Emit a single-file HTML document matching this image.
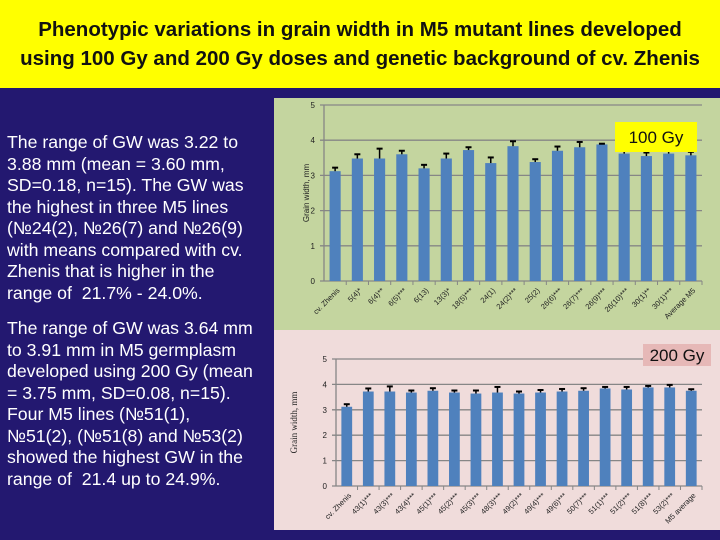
<!DOCTYPE html>
<html><head><meta charset="utf-8"><style>
body{margin:0;width:720px;height:540px;overflow:hidden;background:#231870;font-family:"Liberation Sans",sans-serif;position:relative}
#title{position:absolute;left:0;top:0;width:720px;height:88px;background:#ffff00;text-align:center;font-weight:bold;font-size:20.5px;line-height:29px;padding-top:15px;box-sizing:border-box;color:#111}
.txt{position:absolute;left:7px;color:#fff;font-size:17.7px;line-height:21.5px;white-space:nowrap}
#g1{position:absolute;left:274px;top:98px;width:446px;height:232px;background:#c4d59f}
#g2{position:absolute;left:274px;top:330px;width:446px;height:200px;background:#f0dcdb}
svg{position:absolute;left:0;top:0}
</style></head><body>
<div id="title">Phenotypic variations in grain width in M5 mutant lines developed<br>using 100 Gy and 200 Gy doses and genetic background of cv. Zhenis</div>
<div class="txt" style="top:132px">The range of GW was 3.22 to<br>3.88 mm (mean = 3.60 mm,<br>SD=0.18, n=15). The GW was<br>the highest in three M5 lines<br>(№24(2), №26(7) and №26(9)<br>with means compared with cv.<br>Zhenis that is higher in the<br>range of&nbsp; 21.7% - 24.0%.</div>
<div class="txt" style="top:318px">The range of GW was 3.64 mm<br>to 3.91 mm in M5 germplasm<br>developed using 200 Gy (mean<br>= 3.75 mm, SD=0.08, n=15).<br>Four M5 lines (№51(1),<br>№51(2), (№51(8) and №53(2)<br>showed the highest GW in the<br>range of&nbsp; 21.4 up to 24.9%.</div>
<div id="g1"></div>
<div id="g2"></div>
<svg id="svg" width="720" height="540"></svg>
<script>
const cats1=["cv. Zhenis","5(4)*","6(4)**","6(5)***","6(13)","13(3)*","18(5)***","24(1)","24(2)***","25(2)","26(6)***","26(7)***","26(9)***","26(10)***","30(1)**","30(1)***","Average M5"];
const vals1=[3.12,3.48,3.48,3.6,3.2,3.48,3.72,3.35,3.83,3.38,3.7,3.8,3.88,3.62,3.55,3.62,3.57];
const errs1=[0.1,0.12,0.28,0.1,0.1,0.14,0.08,0.16,0.14,0.08,0.12,0.15,0.02,0.1,0.1,0.1,0.1];
const cats2=["cv. Zhenis","43(1)***","43(3)***","43(4)***","45(1)***","45(2)***","45(3)***","48(3)***","49(2)***","49(4)***","49(6)***","50(7)***","51(1)***","51(2)***","51(8)***","53(2)***","M5 average"];
const vals2=[3.12,3.72,3.72,3.68,3.75,3.68,3.64,3.68,3.64,3.68,3.72,3.75,3.84,3.8,3.88,3.88,3.75];
const errs2=[0.1,0.12,0.2,0.08,0.1,0.08,0.12,0.22,0.08,0.1,0.1,0.1,0.06,0.1,0.06,0.1,0.06];
const ticks=[0,1,2,3,4,5];
const NS="http://www.w3.org/2000/svg";
const svg=document.getElementById('svg');
function mk(t,a,p){const e=document.createElementNS(NS,t);for(const k in a)e.setAttribute(k,a[k]);(p||svg).appendChild(e);return e;}
function chart(o){
 const g=mk('g',{});
 
 
 const y=v=>o.y0-(o.y0-o.y5)*v/5;
 const bw=(o.x1-o.x0)/o.cats.length;
 ticks.forEach(t=>{
  mk('line',{x1:o.x0-4,x2:o.x1,y1:y(t),y2:y(t),stroke:'#868686','stroke-width':1.3},g);
  const tx=mk('text',{x:o.x0-9,y:y(t)+3,'font-size':8,'text-anchor':'end',fill:'#222'},g);tx.textContent=t;
  
  
 });
 mk('line',{x1:o.x0,x2:o.x0,y1:o.y5,y2:o.y0,stroke:'#868686','stroke-width':1.3},g);
 o.cats.forEach((c,i)=>{
  const cx=o.x0+bw*(i+0.5),w=bw*0.5;
  const r=mk('rect',{x:cx-w/2,y:y(o.vals[i]),width:w,height:o.y0-y(o.vals[i]),fill:'#4f81bd'},g);
  
  
  const ey=y(o.vals[i]+o.errs[i]);
  mk('line',{x1:cx,x2:cx,y1:y(o.vals[i]),y2:ey,stroke:'#000','stroke-width':1.5},g);
  mk('line',{x1:cx-3,x2:cx+3,y1:ey,y2:ey,stroke:'#000','stroke-width':2},g);
  mk('line',{x1:o.x0+bw*(i+1),x2:o.x0+bw*(i+1),y1:o.y0,y2:o.y0+4,stroke:'#868686'},g);
  const lt=mk('text',{x:cx+5,y:o.y0+10,'font-size':7.5,'text-anchor':'end',fill:'#222',transform:`rotate(-45 ${cx+5} ${o.y0+10})`},g);lt.textContent=c;
  
  
 });
 const yt=mk('text',{x:0,y:0,'font-size':o.yfs,'text-anchor':'middle',fill:'#222','font-family':o.yff,transform:`translate(${o.ytx} ${(o.y0+o.y5)/2}) rotate(-90)`},g);yt.textContent='Grain width, mm';
 
 
 const b=mk('rect',{x:o.bx,y:o.by,width:o.bw,height:o.bh,fill:o.bfill},g);
 
 
 const bt=mk('text',{x:o.bx+o.bw/2,y:o.by+o.bh/2+6,'font-size':17,'text-anchor':'middle',fill:'#111'},g);bt.textContent=o.label;
 
 
}
chart({name:'chart-100gy',cats:cats1,vals:vals1,errs:errs1,x0:324,x1:702,y0:281,y5:105,ytx:309,yfs:8,yff:'Liberation Sans',bx:615,by:122,bw:82,bh:30,bfill:'#ffff00',label:'100 Gy'});
chart({name:'chart-200gy',cats:cats2,vals:vals2,errs:errs2,x0:336,x1:702,y0:486,y5:359,ytx:297,yfs:9,yff:'Liberation Serif',bx:643,by:344,bw:68,bh:22,bfill:'#e6b8b7',label:'200 Gy'});
</script>
</body></html>
